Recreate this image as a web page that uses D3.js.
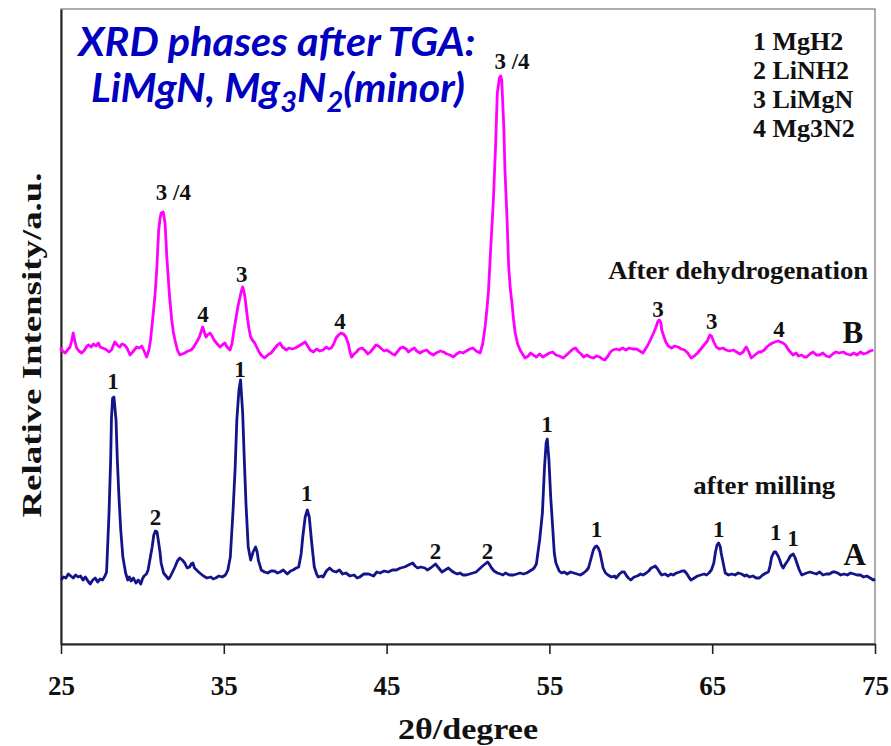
<!DOCTYPE html>
<html>
<head>
<meta charset="utf-8">
<script src="https://cdn.jsdelivr.net/npm/d3@7/dist/d3.min.js"></script>
<style>
  html, body { margin: 0; padding: 0; background: #fff; }
  svg text { font-family: "Liberation Serif", "Times New Roman", serif; font-weight: bold; fill: #111; }
</style>
</head>
<body>
<svg id="chart" width="891" height="746"></svg>
<script>
// XRD pattern A (after milling): [2θ in degrees, relative intensity in a.u.]
const patternA = [
  [25.0,64],[25.15,67],[25.3,66],[25.45,70],[25.6,68],[25.75,66],[25.9,69],[26.05,67],[26.2,68],[26.35,64],
  [26.5,67],[26.65,63],[26.8,60],[26.95,64],[27.1,66],[27.25,62],[27.4,65],[27.55,64],[27.7,68],[27.8,72],
  [27.95,131],[28.05,184],[28.1,226],[28.17,246],[28.25,247],[28.38,224],[28.46,184],[28.56,147],[28.67,114],[28.8,87],
  [28.97,71],[29.1,64],[29.2,67],[29.3,63],[29.45,66],[29.6,61],[29.75,64],[29.9,60],[30.0,65],[30.1,68],
  [30.25,70],[30.35,74],[30.5,88],[30.6,97],[30.7,109],[30.8,113],[30.9,112],[31.0,101],[31.08,92],[31.15,81],
  [31.3,71],[31.45,68],[31.6,65],[31.7,67],[31.85,72],[32.0,77],[32.15,83],[32.3,86],[32.45,84],[32.6,81],
  [32.75,76],[32.9,77],[33.0,80],[33.1,81],[33.2,76],[33.33,74],[33.45,72],[33.6,70],[33.75,68],[33.97,66],
  [34.2,67],[34.35,65],[34.5,66],[34.7,68],[34.9,67],[35.1,69],[35.25,74],[35.4,87],[35.57,134],[35.7,177],
  [35.8,224],[35.93,254],[36.03,264],[36.16,231],[36.26,184],[36.36,141],[36.5,97],[36.65,84],[36.8,92],[36.95,97],
  [37.05,92],[37.12,84],[37.3,74],[37.5,72],[37.7,71],[37.9,73],[38.1,73],[38.3,71],[38.45,72],[38.65,74],
  [38.9,70],[39.1,73],[39.25,74],[39.45,76],[39.6,77],[39.75,90],[39.85,107],[40.0,127],[40.13,134],[40.25,127],
  [40.4,101],[40.56,77],[40.7,70],[40.8,67],[41.0,68],[41.1,67],[41.3,73],[41.5,76],[41.7,73],[41.9,72],
  [42.1,74],[42.3,70],[42.5,71],[42.75,68],[43.0,69],[43.2,66],[43.35,67],[43.6,70],[43.9,70],[44.2,68],
  [44.4,72],[44.6,71],[44.85,73],[45.1,72],[45.35,74],[45.6,74],[45.85,76],[46.1,77],[46.35,79],[46.6,81],
  [46.75,78],[46.9,76],[47.1,77],[47.35,76],[47.5,74],[47.7,76],[47.85,78],[48.0,80],[48.2,76],[48.4,72],
  [48.6,74],[48.8,76],[49.0,73],[49.2,71],[49.35,70],[49.5,71],[49.7,69],[49.9,69],[50.1,70],[50.3,71],
  [50.5,72],[50.7,75],[50.9,78],[51.05,80],[51.2,82],[51.3,80],[51.45,76],[51.6,73],[51.8,71],[52.0,70],
  [52.15,69],[52.3,71],[52.55,69],[52.8,69],[53.0,70],[53.2,71],[53.4,70],[53.6,71],[53.8,73],[54.0,75],
  [54.1,77],[54.2,80],[54.3,92],[54.4,104],[54.57,131],[54.7,177],[54.8,201],[54.87,205],[54.97,184],[55.08,147],
  [55.2,117],[55.3,91],[55.4,81],[55.5,77],[55.6,73],[55.75,71],[55.9,72],[56.1,70],[56.3,72],[56.5,71],
  [56.7,70],[56.9,69],[57.1,71],[57.25,73],[57.4,76],[57.55,85],[57.7,94],[57.8,97],[57.9,98],[58.0,96],
  [58.1,92],[58.2,84],[58.3,76],[58.45,71],[58.6,69],[58.8,67],[59.0,68],[59.1,66],[59.3,70],[59.45,72],
  [59.6,72],[59.75,68],[59.85,66],[60.0,64],[60.2,67],[60.4,68],[60.6,70],[60.75,69],[60.95,71],[61.1,73],
  [61.25,76],[61.4,77],[61.5,78],[61.65,75],[61.8,71],[61.9,69],[62.1,70],[62.3,68],[62.45,70],[62.6,69],
  [62.8,71],[63.0,72],[63.15,73],[63.3,73],[63.45,70],[63.6,66],[63.7,64],[63.9,66],[64.1,68],[64.3,69],
  [64.5,70],[64.65,69],[64.8,71],[64.95,74],[65.1,81],[65.2,92],[65.3,99],[65.4,101],[65.5,97],[65.55,91],
  [65.7,79],[65.8,71],[66.0,69],[66.2,70],[66.4,69],[66.6,71],[66.8,70],[67.0,68],[67.1,69],[67.3,67],
  [67.5,68],[67.7,66],[67.9,66],[68.1,69],[68.3,71],[68.45,72],[68.55,78],[68.65,87],[68.8,92],[68.9,92],
  [69.05,88],[69.15,84],[69.25,79],[69.36,76],[69.5,80],[69.67,84],[69.8,88],[69.98,90],[70.1,86],[70.2,81],
  [70.35,74],[70.5,69],[70.65,70],[70.8,71],[71.0,72],[71.2,71],[71.4,70],[71.6,72],[71.8,69],[72.0,70],
  [72.2,70],[72.4,72],[72.55,72],[72.7,71],[72.9,69],[73.1,70],[73.3,69],[73.5,71],[73.7,70],[73.9,69],
  [74.1,69],[74.3,67],[74.5,68],[74.7,66],[74.9,64],[75.0,65]
];

// XRD pattern B (after dehydrogenation): [2θ in degrees, relative intensity in a.u.]
const patternB = [
  [24.95,296],[25.1,293],[25.25,291],[25.4,294],[25.55,297],[25.65,303],[25.75,311],[25.85,303],[25.96,296],[26.1,293],
  [26.27,291],[26.45,294],[26.6,298],[26.7,299],[26.85,297],[27.0,300],[27.15,298],[27.3,301],[27.4,297],[27.55,296],
  [27.7,295],[27.8,294],[27.95,292],[28.1,294],[28.2,298],[28.3,302],[28.45,299],[28.6,297],[28.75,300],[28.9,299],
  [29.05,296],[29.24,289],[29.4,292],[29.55,295],[29.65,297],[29.8,296],[29.96,298],[30.1,293],[30.26,287],[30.4,294],
  [30.5,304],[30.67,331],[30.78,350],[30.88,374],[31.0,414],[31.08,425],[31.15,431],[31.28,432],[31.39,421],[31.5,387],
  [31.58,368],[31.65,351],[31.8,324],[31.9,312],[32.0,304],[32.15,294],[32.3,289],[32.45,290],[32.6,291],[32.8,293],
  [33.0,294],[33.15,297],[33.3,301],[33.4,304],[33.5,307],[33.6,312],[33.7,317],[33.8,312],[33.9,307],[34.0,309],
  [34.15,311],[34.28,308],[34.4,304],[34.6,300],[34.77,297],[34.9,299],[35.07,301],[35.2,297],[35.38,294],[35.5,300],
  [35.6,311],[35.7,321],[35.8,331],[35.9,340],[36.0,347],[36.08,353],[36.16,357],[36.23,353],[36.3,347],[36.38,336],
  [36.47,324],[36.55,315],[36.65,307],[36.75,304],[36.9,301],[37.05,296],[37.2,291],[37.35,288],[37.5,286],[37.7,289],
  [37.9,291],[38.1,295],[38.3,299],[38.45,301],[38.6,297],[38.85,294],[39.0,296],[39.2,295],[39.4,296],[39.6,298],
  [39.8,300],[40.0,302],[40.15,298],[40.3,294],[40.5,292],[40.7,295],[40.9,293],[41.1,294],[41.3,297],[41.45,295],
  [41.6,296],[41.75,300],[41.9,306],[42.05,309],[42.2,311],[42.35,310],[42.5,307],[42.65,300],[42.75,292],[42.85,287],
  [43.0,290],[43.15,292],[43.3,295],[43.5,296],[43.7,293],[43.85,290],[44.0,292],[44.2,296],[44.35,299],[44.5,298],
  [44.7,295],[44.85,293],[45.0,294],[45.2,292],[45.35,290],[45.5,289],[45.7,293],[45.85,296],[46.0,297],[46.2,295],
  [46.35,292],[46.5,294],[46.7,296],[46.85,293],[47.05,291],[47.25,293],[47.46,294],[47.65,291],[47.87,289],[48.05,291],
  [48.3,293],[48.5,292],[48.7,290],[48.9,289],[49.1,287],[49.3,290],[49.5,292],[49.7,291],[49.9,293],[50.1,295],
  [50.3,296],[50.5,293],[50.74,291],[50.9,300],[51.05,317],[51.15,333],[51.25,351],[51.4,397],[51.56,444],[51.7,501],
  [51.8,551],[51.93,566],[52.0,568],[52.07,564],[52.2,517],[52.27,474],[52.4,424],[52.5,377],[52.6,355],[52.7,341],
  [52.8,324],[52.9,311],[53.05,300],[53.2,294],[53.35,290],[53.5,286],[53.7,288],[53.85,291],[54.0,289],[54.2,287],
  [54.4,290],[54.6,287],[54.8,289],[55.0,291],[55.2,292],[55.4,289],[55.6,288],[55.85,286],[56.05,289],[56.25,292],
  [56.45,295],[56.6,296],[56.8,292],[56.95,290],[57.1,287],[57.3,289],[57.5,287],[57.7,286],[57.9,288],[58.1,287],
  [58.25,285],[58.4,284],[58.6,288],[58.75,292],[58.9,294],[59.1,295],[59.3,294],[59.5,296],[59.7,294],[59.9,296],
  [60.1,295],[60.35,295],[60.55,293],[60.75,291],[60.9,295],[61.05,299],[61.2,304],[61.4,311],[61.55,317],[61.65,322],
  [61.75,324],[61.85,321],[61.9,314],[62.0,309],[62.15,302],[62.3,298],[62.5,296],[62.7,298],[62.9,297],[63.1,295],
  [63.3,294],[63.5,291],[63.7,286],[63.9,288],[64.1,291],[64.3,295],[64.5,299],[64.7,303],[64.85,309],[64.95,308],
  [65.0,306],[65.1,302],[65.25,297],[65.45,295],[65.66,296],[65.85,294],[66.05,293],[66.3,294],[66.5,292],[66.7,290],
  [66.9,292],[67.0,295],[67.1,297],[67.25,292],[67.4,286],[67.55,288],[67.7,290],[67.85,292],[68.0,292],[68.2,294],
  [68.35,297],[68.5,299],[68.7,301],[68.85,302],[69.05,303],[69.2,302],[69.35,301],[69.5,299],[69.65,295],[69.8,292],
  [69.97,289],[70.15,291],[70.3,288],[70.5,289],[70.65,287],[70.8,287],[71.0,290],[71.2,292],[71.4,289],[71.6,289],
  [71.8,291],[72.0,288],[72.2,287],[72.4,290],[72.6,292],[72.8,291],[73.05,292],[73.25,290],[73.5,289],[73.7,291],
  [73.9,289],[74.1,292],[74.3,290],[74.5,291],[74.7,293],[74.9,294]
];

// Phase markers above the reflections: [2θ, intensity, phase number]
const markersA = [[28.2,255,"1"],[30.8,119,"2"],[36.0,267,"1"],[40.1,143,"1"],[48.0,85,"2"],[51.2,85,"2"],[54.85,212,"1"],[57.9,107,"1"],[65.4,107,"1"],[68.9,104,"1"],[69.96,98,"1"]];
const markersB = [[31.9,444,"3 /4"],[33.72,322,"4"],[36.1,362,"3"],[42.14,315,"4"],[52.7,575,"3 /4"],[61.67,327,"3"],[64.98,315,"3"],[69.1,307,"4"]];

// Pattern captions: [2θ, intensity, text, size, length]
const captions = [[66.6,365,"After dehydrogenation",26,260],[68.2,150,"after milling",26,142],[73.64,301,"B",31,0],[73.75,79,"A",31,0]];

const legendItems = ["1 MgH2","2 LiNH2","3 LiMgN","4 Mg3N2"];
const xTicks = [25,35,45,55,65,75];
const titleLines = ["XRD phases after TGA:", "LiMgN, Mg3N2(minor)"];

const svg = d3.select("#chart");
const m = {left: 61, right: 875, top: 9, bottom: 644};

const x = d3.scaleLinear().domain([25, 75]).range([m.left, m.right]);
const y = d3.scaleLinear().domain([0, 635]).range([m.bottom, m.top]);

// plot frame
svg.append("rect")
  .attr("x", m.left).attr("y", m.top)
  .attr("width", m.right - m.left).attr("height", m.bottom - m.top)
  .attr("fill", "none").attr("stroke", "#777").attr("stroke-width", 1.2);

// bottom axis
const xAxis = svg.append("g")
  .attr("transform", `translate(0,${m.bottom})`)
  .call(d3.axisBottom(x).tickValues(xTicks).tickFormat(d3.format("d")).tickSize(10).tickSizeOuter(0).tickPadding(22));
xAxis.select(".domain").attr("stroke", "#222").attr("stroke-width", 2);
xAxis.selectAll(".tick line").attr("stroke", "#222").attr("stroke-width", 1.6);
xAxis.selectAll(".tick text")
  .attr("font-family", "Liberation Serif, serif").attr("font-weight", "bold")
  .attr("font-size", 27).attr("fill", "#111");

// left axis (line only)
const yAxis = svg.append("g")
  .attr("transform", `translate(${m.left},0)`)
  .call(d3.axisLeft(y).tickValues([]).tickSizeOuter(0));
yAxis.select(".domain").attr("stroke", "#222").attr("stroke-width", 2);

// axis titles
svg.append("text")
  .attr("x", 468).attr("y", 739)
  .attr("text-anchor", "middle").attr("font-size", 30)
  .attr("textLength", 140).attr("lengthAdjust", "spacingAndGlyphs")
  .text("2θ/degree");
svg.append("text")
  .attr("transform", `translate(41,345) rotate(-90)`)
  .attr("text-anchor", "middle").attr("font-size", 28)
  .attr("textLength", 345).attr("lengthAdjust", "spacingAndGlyphs")
  .text("Relative Intensity/a.u.");

// diffraction patterns
const line = d3.line().x(d => x(d[0])).y(d => y(d[1]));
svg.append("path")
  .datum(patternA)
  .attr("d", line).attr("fill", "none")
  .attr("stroke", "#14148a").attr("stroke-width", 2.8).attr("stroke-linejoin", "round");
svg.append("path")
  .datum(patternB)
  .attr("d", line).attr("fill", "none")
  .attr("stroke", "#ff00ff").attr("stroke-width", 2.8).attr("stroke-linejoin", "round");

// phase markers
svg.append("g").selectAll("text")
  .data(markersA.concat(markersB))
  .join("text")
  .attr("x", d => x(d[0])).attr("y", d => y(d[1]))
  .attr("text-anchor", "middle").attr("font-size", 23)
  .text(d => d[2]);

// pattern captions
svg.append("g").selectAll("text")
  .data(captions)
  .join("text")
  .attr("x", d => x(d[0])).attr("y", d => y(d[1]))
  .attr("text-anchor", "middle").attr("font-size", d => d[3])
  .each(function(d) {
    if (d[4]) d3.select(this).attr("textLength", d[4]).attr("lengthAdjust", "spacingAndGlyphs");
  })
  .text(d => d[2]);

// phase legend
svg.append("g").selectAll("text")
  .data(legendItems)
  .join("text")
  .attr("x", 753).attr("y", (d, i) => 50 + i * 29)
  .attr("font-size", 26)
  .text(d => d);

// title
const titleFont = "Lato, 'Open Sans', sans-serif";
svg.append("text")
  .attr("x", 277).attr("y", 56).attr("text-anchor", "middle")
  .attr("font-size", 41)
  .attr("textLength", 397).attr("lengthAdjust", "spacingAndGlyphs")
  .style("fill", "#0000c0").style("font-family", titleFont).style("font-style", "italic")
  .text(titleLines[0]);
const t2 = svg.append("text")
  .attr("x", 278).attr("y", 102).attr("text-anchor", "middle")
  .attr("font-size", 41)
  .style("fill", "#0000c0").style("font-family", titleFont).style("font-style", "italic");
t2.append("tspan").text("LiMgN, Mg");
t2.append("tspan").attr("dy", 10).attr("font-size", 29).text("3");
t2.append("tspan").attr("dy", -10).text("N");
t2.append("tspan").attr("dy", 10).attr("font-size", 29).text("2");
t2.append("tspan").attr("dy", -10).text("(minor)");
</script>
</body>
</html>
